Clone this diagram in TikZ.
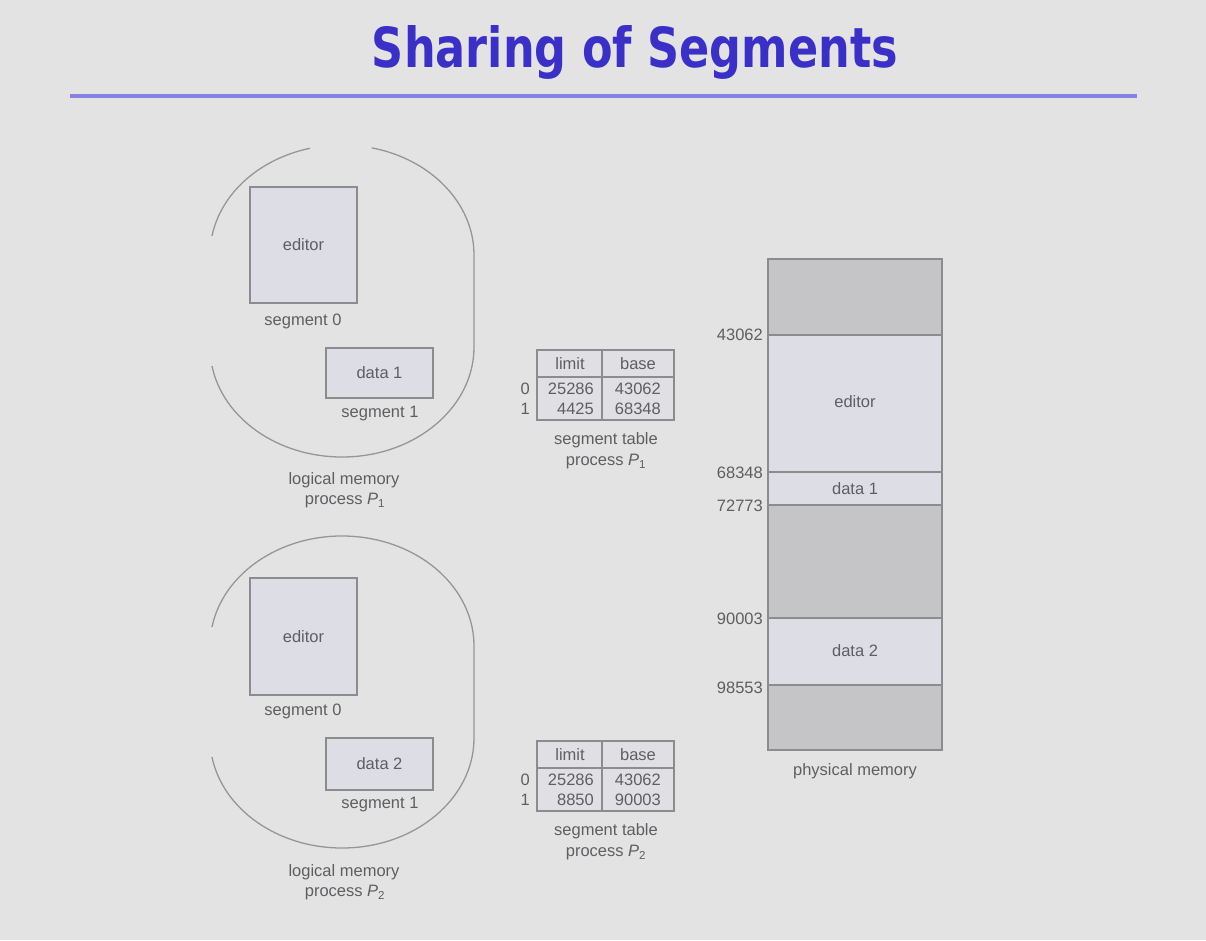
\documentclass[tikz,border=0pt]{standalone}
\usepackage{graphicx}
\usepackage{fontspec}
\setmainfont{Liberation Sans}
\newfontfamily\titlefont{DejaVu Sans}
\definecolor{bg}{RGB}{227,227,227}
\definecolor{titleblue}{RGB}{58,48,200}
\definecolor{rulecol}{RGB}{135,130,225}
\definecolor{txtgray}{RGB}{95,95,98}
\definecolor{linegray}{RGB}{140,140,143}
\definecolor{arcgray}{RGB}{150,150,152}
\definecolor{boxfill}{RGB}{221,221,229}
\definecolor{darkfill}{RGB}{197,197,199}
\definecolor{tabfill}{RGB}{224,224,228}
\begin{document}
\begin{tikzpicture}[x=1pt,y=-1pt,
  txt/.style={font=\fontsize{16.5}{19}\selectfont, text=txtgray, inner sep=0pt},
  seg/.style={draw=linegray, fill=boxfill, line width=1.3pt, txt},
  outline/.style={draw=arcgray, line width=1.3pt},
  pmline/.style={draw=linegray, line width=1.3pt}]
\fill[bg] (0,0) rectangle (1206,940);
\useasboundingbox (0,0) rectangle (1206,940);

% title
\node[inner sep=0pt, text=titleblue] (title) at (635,52)
  {\resizebox{526pt}{42pt}{\titlefont\bfseries Sharing of Segments}};
\draw[rulecol, line width=4pt] (70,96) -- (1137,96);

% ---------- process P1 logical memory ----------
\draw[outline] (342,255) ++(190:132 and 110) arc[start angle=190, end angle=256, x radius=132, y radius=110];
\draw[outline] (342,255) ++(283:132 and 110) arc[start angle=283, end angle=360, x radius=132, y radius=110]
  -- (474,347) arc[start angle=0, end angle=170, x radius=132, y radius=110];
\node[seg, minimum width=107pt, minimum height=116pt] (ed1) at (303.5,245) {editor};
\node[txt] (s01) at (303,321) {segment 0};
\node[seg, minimum width=107pt, minimum height=50pt] (d1) at (379.5,373) {data 1};
\node[txt] (s11) at (380,414) {segment 1};
\node[txt] (lm1) at (344,480) {logical memory};
\node[txt] (pr1) at (345,501) {process \textit{P}\textsubscript{1}};

% ---------- segment table P1 ----------
\filldraw[fill=tabfill, draw=linegray, line width=1.2pt] (537,350) rectangle (674,420);
\draw[linegray, line width=1.2pt] (537,377) -- (674,377);
\draw[linegray, line width=1.2pt] (602,350) -- (602,420);
\node[txt] (h1a) at (570,364) {limit};
\node[txt] (h1b) at (638,364) {base};
\node[txt, anchor=east] (r10) at (530,389) {0};
\node[txt, anchor=east] (r11) at (530,409) {1};
\node[txt, anchor=east] (l10) at (594,389) {25286};
\node[txt, anchor=east] (l11) at (594,409) {4425};
\node[txt, anchor=east] (b10) at (661,389) {43062};
\node[txt, anchor=east] (b11) at (661,409) {68348};
\node[txt] (st1) at (606,440) {segment table};
\node[txt] (sp1) at (606,462) {process \textit{P}\textsubscript{1}};

% ---------- process P2 logical memory ----------
\draw[outline] (342,646) ++(190:132 and 110) arc[start angle=190, end angle=360, x radius=132, y radius=110]
  -- (474,738) arc[start angle=0, end angle=170, x radius=132, y radius=110];
\node[seg, minimum width=107pt, minimum height=117pt] (ed2) at (303.5,636.5) {editor};
\node[txt] (s02) at (303,711) {segment 0};
\node[seg, minimum width=107pt, minimum height=52pt] (d2) at (379.5,764) {data 2};
\node[txt] (s12) at (380,805) {segment 1};
\node[txt] (lm2) at (344,872) {logical memory};
\node[txt] (pr2) at (345,893) {process \textit{P}\textsubscript{2}};

% ---------- segment table P2 ----------
\filldraw[fill=tabfill, draw=linegray, line width=1.2pt] (537,741) rectangle (674,811);
\draw[linegray, line width=1.2pt] (537,768) -- (674,768);
\draw[linegray, line width=1.2pt] (602,741) -- (602,811);
\node[txt] (h2a) at (570,755) {limit};
\node[txt] (h2b) at (638,755) {base};
\node[txt, anchor=east] (r20) at (530,780) {0};
\node[txt, anchor=east] (r21) at (530,800) {1};
\node[txt, anchor=east] (l20) at (594,780) {25286};
\node[txt, anchor=east] (l21) at (594,800) {8850};
\node[txt, anchor=east] (b20) at (661,780) {43062};
\node[txt, anchor=east] (b21) at (661,800) {90003};
\node[txt] (st2) at (606,831) {segment table};
\node[txt] (sp2) at (606,853) {process \textit{P}\textsubscript{2}};

% ---------- physical memory ----------
\fill[darkfill] (768,259) rectangle (942,335);
\fill[boxfill]  (768,335) rectangle (942,472);
\fill[boxfill]  (768,472) rectangle (942,505);
\fill[darkfill] (768,505) rectangle (942,618);
\fill[boxfill]  (768,618) rectangle (942,685);
\fill[darkfill] (768,685) rectangle (942,750);
\draw[pmline] (768,335) -- (942,335);
\draw[pmline] (768,472) -- (942,472);
\draw[pmline] (768,505) -- (942,505);
\draw[pmline] (768,618) -- (942,618);
\draw[pmline] (768,685) -- (942,685);
\draw[pmline] (768,259) rectangle (942,750);
\node[txt] (pme) at (855,402) {editor};
\node[txt] (pmd1) at (855,489) {data 1};
\node[txt] (pmd2) at (855,651) {data 2};
\node[txt, anchor=east] (a1) at (763,335) {43062};
\node[txt, anchor=east] (a2) at (763,473) {68348};
\node[txt, anchor=east] (a3) at (763,506) {72773};
\node[txt, anchor=east] (a4) at (763,619) {90003};
\node[txt, anchor=east] (a5) at (763,688) {98553};
\node[txt] (pm) at (855,771) {physical memory};
\end{tikzpicture}
\end{document}
